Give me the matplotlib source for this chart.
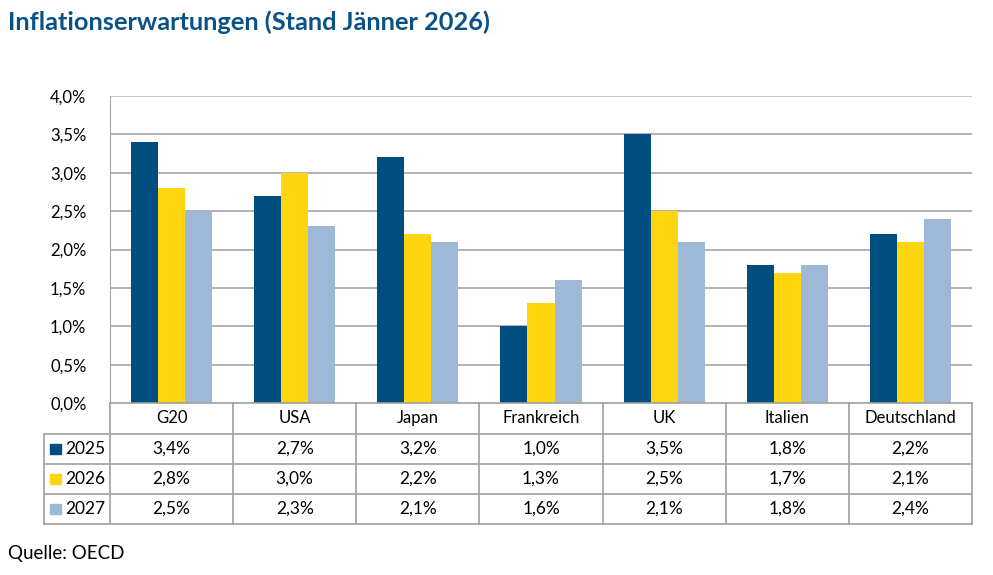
import numpy as np
import matplotlib
matplotlib.use("Agg")
import matplotlib.pyplot as plt
from matplotlib.patches import Rectangle

plt.rcParams['font.family'] = ['Lato', 'DejaVu Sans']

laender = ['G20', 'USA', 'Japan', 'Frankreich', 'UK', 'Italien', 'Deutschland']
jahre = ['2025', '2026', '2027']
w2025 = [3.4, 2.7, 3.2, 1.0, 3.5, 1.8, 2.2]
w2026 = [2.8, 3.0, 2.2, 1.3, 2.5, 1.7, 2.1]
w2027 = [2.5, 2.3, 2.1, 1.6, 2.1, 1.8, 2.4]
werte = [w2025, w2026, w2027]
farben = ['#004d80', '#ffd50f', '#9db9d7']
yticks = [0.0, 0.5, 1.0, 1.5, 2.0, 2.5, 3.0, 3.5, 4.0]

def fmt(v):
    return ('%.1f%%' % v).replace('.', ',')

fig = plt.figure(figsize=(9.93, 5.75), dpi=100)
ax = fig.add_axes([110/993, 1-403/575, 862/993, 307/575])

x = np.arange(len(laender))
bw = 0.22
for i in range(3):
    ax.bar(x + (i-1)*bw, werte[i], width=bw, color=farben[i], zorder=3)

ax.set_xlim(-0.5, len(laender)-0.5)
ax.set_ylim(0, 4.0)
ax.set_yticks(yticks)
ax.set_yticklabels([fmt(t) for t in yticks], fontsize=12)
ax.set_xticks([])
for t in yticks[1:]:
    ax.axhline(t, color='#a6a6a6' if t < 4 else '#c0c0c0', lw=1.2, zorder=1)
for s in ['top', 'right', 'bottom']:
    ax.spines[s].set_visible(False)
ax.spines['left'].set_color('#a6a6a6')
ax.tick_params(axis='y', length=0, pad=17)

# Datentabelle
lbl_w = 66/123.1
tx = fig.add_axes([44/993, 1-524/575, 928/993, 121/575])
tx.set_xlim(-0.5-lbl_w, len(laender)-0.5)
tx.set_ylim(0, 121)
tx.axis('off')
lc = '#a0a0a0'
rows_y = [121, 90, 60, 30, 0]
tx.plot([-0.5, len(laender)-0.5], [121, 121], color=lc, lw=1.2, clip_on=False)
for yy in rows_y[1:]:
    tx.plot([-0.5-lbl_w, len(laender)-0.5], [yy, yy], color=lc, lw=1.2, clip_on=False)
for k in range(len(laender)+1):
    tx.plot([k-0.5, k-0.5], [0, 121], color=lc, lw=1.2, clip_on=False)
tx.plot([-0.5-lbl_w]*2, [0, 90], color=lc, lw=1.2, clip_on=False)

for k, name in enumerate(laender):
    tx.text(k, 106, name, ha='center', va='center', fontsize=12)
for i in range(3):
    yc = (rows_y[i+1] + rows_y[i+2]) / 2
    tx.add_patch(Rectangle((-0.5-lbl_w+0.05, yc-5), 0.085, 10,
                           color=farben[i], clip_on=False))
    tx.text(-0.5-0.035, yc, jahre[i], ha='right', va='center', fontsize=12.5)
    for k in range(len(laender)):
        tx.text(k, yc, fmt(werte[i][k]), ha='center', va='center', fontsize=12.5)

fig.text(8/993, 1-22/575, 'Inflationserwartungen (Stand Jänner 2026)',
         fontsize=18.3, fontweight='bold', color='#0b5185', va='center', ha='left')
fig.text(8/993, 1-554/575, 'Quelle: OECD', fontsize=13.5, va='center', ha='left')

fig.savefig('out.png', dpi=100)
